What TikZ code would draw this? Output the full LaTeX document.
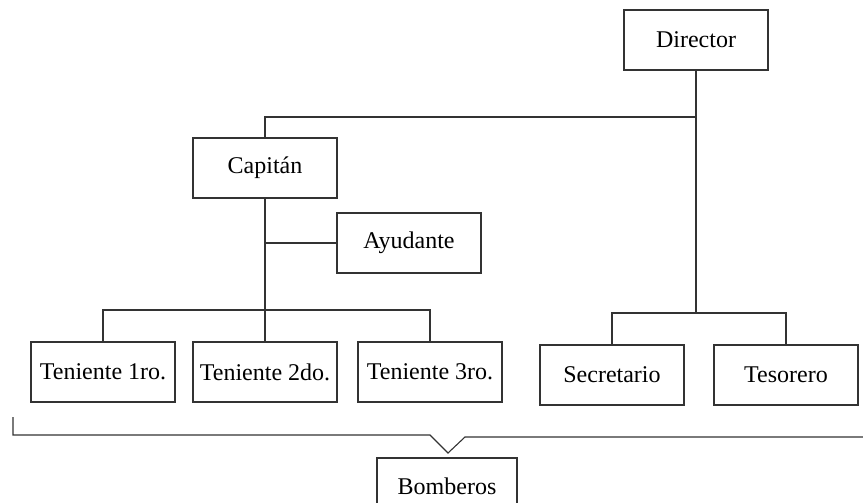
\documentclass[tikz,border=0pt]{standalone}
\usepackage{fontspec}
\setmainfont{Liberation Serif}
\usetikzlibrary{positioning}

\begin{document}
\begin{tikzpicture}[x=1pt,y=-1pt,line width=1.1pt,draw=black!80,font=\fontsize{24}{28}\selectfont]
    \tikzstyle{puesto}=[draw,fill=white,minimum width=144pt,minimum height=60pt,inner sep=0pt]
    \useasboundingbox (0,0) rectangle (863,503);
    \node[puesto] (dir) at (696,40) {Director};
    \node[puesto] (cap) at (265,168) {Capit\'an};
    \node[puesto] (ayu) at (409,243) {Ayudante};
    \node[puesto] (ten1) at (103,372) {Teniente 1ro.};
    \node[puesto] (ten2) at (265,372) {Teniente 2do.};
    \node[puesto] (ten3) at (430,372) {Teniente 3ro.};
    \node[puesto] (sec) at (612,375) {Secretario};
    \node[puesto] (tes) at (786,375) {Tesorero};
    \node[puesto,minimum width=140pt,minimum height=64pt] (bom) at (447,490) {\raisebox{8pt}{Bomberos}};
    \coordinate (arriba) at (696,117);% bar under the director
    \coordinate (jcap) at (265,310);% bar over the tenientes
    \coordinate (jdir) at (696,313);% bar over secretario and tesorero
    \draw (dir.south) -- (jdir);
    \draw (cap.north) |- (arriba);
    \draw (cap.south) -- (jcap);
    \draw (cap.south |- ayu.west) -- (ayu.west);
    \draw (ten1.north) |- (jcap) -| (ten3.north);
    \draw (ten2.north) -- (jcap);
    \draw (sec.north) |- (jdir) -| (tes.north);
    % brace over everybody, pointing at bom
    \coordinate (llave) at (448,453);
    \draw (13,417) -- (13,435) -- (430,435) -- (llave) -- (465,437) -- (863,437);
\end{tikzpicture}
\end{document}
